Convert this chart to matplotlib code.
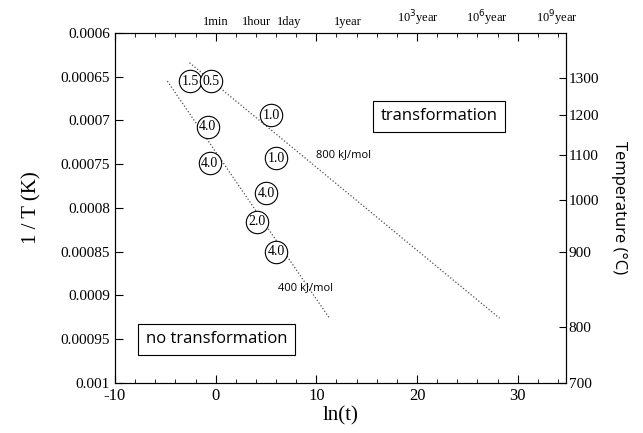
import numpy as np
import matplotlib
matplotlib.use('Agg')
from matplotlib import pyplot as plt
from matplotlib import transforms

# data points: ln(t) vs 1/T, with the label written in each circle
pt_x = [-2.5, -0.5, 5.5, -0.8, -0.6, 6.0, 5.0, 4.1, 6.0]
pt_y = [0.000655, 0.000655, 0.000694, 0.000707, 0.000749, 0.000743, 0.000783, 0.000816, 0.00085]
pt_lbl = ['1.5', '0.5', '1.0', '4.0', '4.0', '1.0', '4.0', '2.0', '4.0']

# activation energy lines (end points)
line400_x = [-4.8, 11.3]
line400_y = [0.000655, 0.000926]
line800_x = [-2.6, 28.2]
line800_y = [0.000634, 0.000926]

# left axis ticks
yticks = [0.0006, 0.00065, 0.0007, 0.00075, 0.0008, 0.00085, 0.0009, 0.00095, 0.001]
ytick_lbl = ['0.0006', '0.00065', '0.0007', '0.00075', '0.0008', '0.00085', '0.0009', '0.00095', '0.001']
xticks = [-10, 0, 10, 20, 30]

# right axis: temperature (°C) at 1/T positions
temp_pos = [0.000651, 0.000694, 0.000739, 0.000791, 0.00085, 0.000936, 0.001]
temp_lbl = ['1300', '1200', '1100', '1000', '900', '800', '700']

# top labels: time in minutes -> ln(t)
time_minutes = [1, 60, 1440, 525600, 5.256e8, 5.256e11, 5.256e14]
time_lbl = ['1min', '1hour', '1day', '1year', r'10$^3$year', r'10$^6$year', r'10$^9$year']

serif = 'Liberation Serif'
sans = 'Open Sans'

fig = plt.figure(figsize=(6.43, 4.33), dpi=100)
ax = fig.add_axes([0.1788, 0.1155, 0.7015, 0.8083])

ax.plot(line400_x, line400_y, ls=':', color='0.3', lw=0.9)
ax.plot(line800_x, line800_y, ls=':', color='0.3', lw=0.9)

ax.scatter(pt_x, pt_y, s=260, facecolors='white', edgecolors='black', linewidths=0.8, zorder=3)
for x, y, l in zip(pt_x, pt_y, pt_lbl):
    ax.text(x, y, l, ha='center', va='center', fontsize=10, family=serif, zorder=4)

ax.text(10.0, 0.000739, '800 kJ/mol', fontsize=8, family=sans, va='center')
ax.text(6.2, 0.000891, '400 kJ/mol', fontsize=8, family=sans, va='center')

box = dict(boxstyle='square,pad=0.45', facecolor='white', edgecolor='black', lw=0.8)
ax.text(22.2, 0.000695, 'transformation', fontsize=12, family=sans, ha='center', va='center', bbox=box)
ax.text(0.1, 0.00095, 'no transformation', fontsize=12, family=sans, ha='center', va='center', bbox=box)

ax.set_xlim(-10, 34.8)
ax.set_ylim(0.001, 0.0006)
ax.set_xticks(xticks)
ax.set_xticklabels([str(v) for v in xticks], family=serif, fontsize=12)
ax.set_xticks(np.arange(-10, 35, 2), minor=True)
ax.set_yticks(yticks)
ax.set_yticklabels(ytick_lbl, family=serif, fontsize=11)
ax.tick_params(axis='both', which='both', direction='in', top=True)
ax.tick_params(axis='both', which='major', length=6)
ax.tick_params(axis='both', which='minor', length=3)
ax.set_xlabel('ln(t)', family=serif, fontsize=15, labelpad=2)
ax.set_ylabel('1 / T (K)', family=serif, fontsize=15, labelpad=14)

trans = transforms.blended_transform_factory(ax.transData, ax.transAxes)
for m, l in zip(time_minutes, time_lbl):
    ax.text(np.log(m), 1.015, l, transform=trans, ha='center', va='bottom', fontsize=9, family=serif)

ax2 = ax.twinx()
ax2.set_ylim(ax.get_ylim())
ax2.set_yticks(temp_pos)
ax2.set_yticklabels(temp_lbl, family=serif, fontsize=11)
ax2.tick_params(axis='y', direction='in', length=5, pad=2)
ax2.set_ylabel('Temperature (°C)', family=sans, fontsize=12, rotation=-90, labelpad=20)

plt.savefig('out.png', dpi=100)
